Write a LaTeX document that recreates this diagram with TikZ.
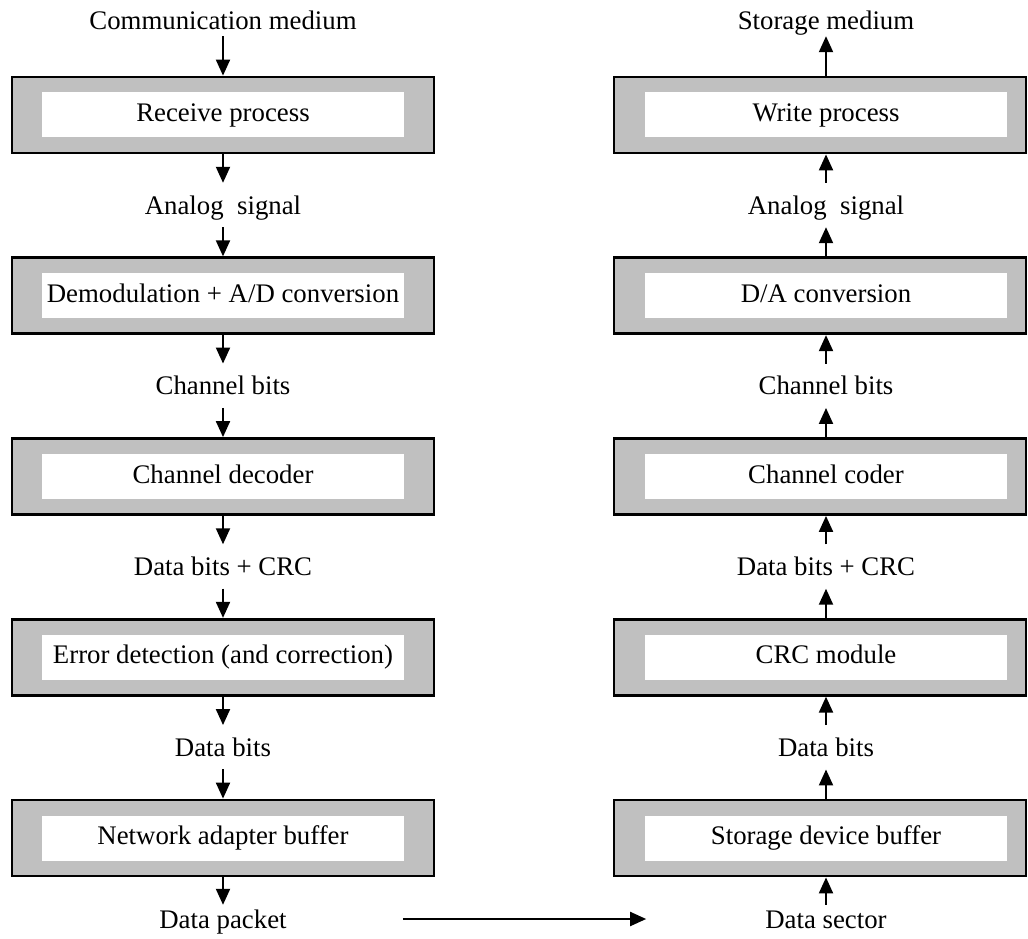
\documentclass[tikz,border=0pt]{standalone}
\usepackage{fontspec}
\setmainfont{Liberation Serif}
\usetikzlibrary{arrows.meta}
\definecolor{boxgray}{HTML}{C0C0C0}
\begin{document}
\begin{tikzpicture}[x=1pt,y=-1pt,
  font=\fontsize{26.8}{30}\selectfont,
  outerbox/.style={draw=black, line width=2.8pt, fill=boxgray, minimum height=76pt, inner sep=0pt},
  lbox/.style={outerbox, minimum width=422pt},
  rbox/.style={outerbox, minimum width=412pt},
  innerbox/.style={fill=white, minimum width=362pt, minimum height=45pt, inner sep=0pt, text height=18pt, text depth=5pt},
  lbl/.style={inner xsep=0pt, inner ysep=13pt, text height=18pt, text depth=0pt},
  endlbl/.style={lbl, inner ysep=6pt},
  botlbl/.style={lbl, inner ysep=5pt},
  arr/.style={line width=2pt, -{Triangle[length=16pt,width=14pt]}}]
\useasboundingbox (0,0) rectangle (1028,939);

% ---- left column ----
\node[endlbl] (lcm) at (223,21) {Communication medium};
\node[lbox] (lb1) at (223,115) {};
\node[innerbox] (li1) at (lb1) {Receive process};
\node[lbl] (lan) at (223,205) {Analog\ \ signal};
\node[lbox] (lb2) at (223,295.75) {};
\node[innerbox] (li2) at (lb2) {Demodulation + A/D conversion};
\node[lbl] (lcb) at (223,385.75) {Channel bits};
\node[lbox] (lb3) at (223,476.5) {};
\node[innerbox] (li3) at (lb3) {Channel decoder};
\node[lbl] (ldc) at (223,566.5) {Data bits + CRC};
\node[lbox] (lb4) at (223,657.25) {};
\node[innerbox] (li4) at (lb4) {Error detection (and correction)};
\node[lbl] (ldb) at (223,747.25) {Data bits};
\node[lbox] (lb5) at (223,838) {};
\node[innerbox] (li5) at (lb5) {Network adapter buffer};
\node[botlbl] (ldp) at (223,919) {Data packet};

\draw[arr] (lcm.south) -- (lb1.north);
\draw[arr] (lb1.south) -- (lan.north);
\draw[arr] (lan.south) -- (lb2.north);
\draw[arr] (lb2.south) -- (lcb.north);
\draw[arr] (lcb.south) -- (lb3.north);
\draw[arr] (lb3.south) -- (ldc.north);
\draw[arr] (ldc.south) -- (lb4.north);
\draw[arr] (lb4.south) -- (ldb.north);
\draw[arr] (ldb.south) -- (lb5.north);
\draw[arr] (lb5.south) -- (ldp.north);

% ---- right column ----
\node[endlbl] (rsm) at (826,21) {Storage medium};
\node[rbox] (rb1) at (820,115) {};
\node[innerbox] (ri1) at (826,115) {Write process};
\node[lbl] (ran) at (826,205) {Analog\ \ signal};
\node[rbox] (rb2) at (820,295.75) {};
\node[innerbox] (ri2) at (826,295.75) {D/A conversion};
\node[lbl] (rcb) at (826,385.75) {Channel bits};
\node[rbox] (rb3) at (820,476.5) {};
\node[innerbox] (ri3) at (826,476.5) {Channel coder};
\node[lbl] (rdc) at (826,566.5) {Data bits + CRC};
\node[rbox] (rb4) at (820,657.25) {};
\node[innerbox] (ri4) at (826,657.25) {CRC module};
\node[lbl] (rdb) at (826,747.25) {Data bits};
\node[rbox] (rb5) at (820,838) {};
\node[innerbox] (ri5) at (826,838) {Storage device buffer};
\node[botlbl] (rds) at (826,919) {Data sector};

\draw[arr] (rb1.north -| rsm) -- (rsm.south);
\draw[arr] (ran.north) -- (rb1.south -| ran);
\draw[arr] (rb2.north -| ran) -- (ran.south);
\draw[arr] (rcb.north) -- (rb2.south -| rcb);
\draw[arr] (rb3.north -| rcb) -- (rcb.south);
\draw[arr] (rdc.north) -- (rb3.south -| rdc);
\draw[arr] (rb4.north -| rdc) -- (rdc.south);
\draw[arr] (rdb.north) -- (rb4.south -| rdb);
\draw[arr] (rb5.north -| rdb) -- (rdb.south);
\draw[arr] (rds.north) -- (rb5.south -| rds);

% ---- bottom link ----
\draw[arr, shorten <=116pt, shorten >=119pt] (ldp.east) -- (rds.west);
\end{tikzpicture}
\end{document}
